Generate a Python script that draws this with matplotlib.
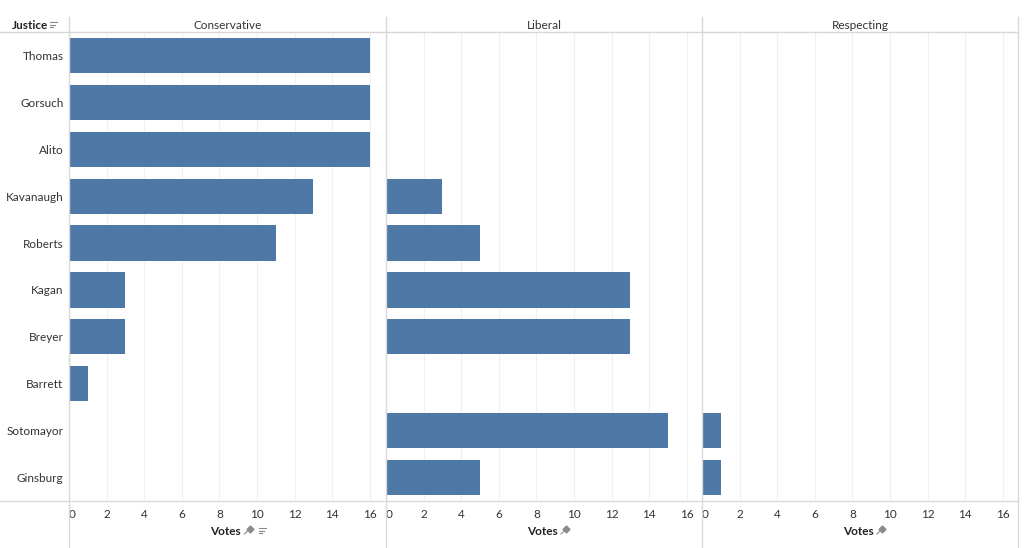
import matplotlib.pyplot as plt
import numpy as np

justices = ["Thomas", "Gorsuch", "Alito", "Kavanaugh", "Roberts",
            "Kagan", "Breyer", "Barrett", "Sotomayor", "Ginsburg"]
panels = ["Conservative", "Liberal", "Respecting"]
conservative = [16, 16, 16, 13, 11, 3, 3, 1, 0, 0]
liberal = [0, 0, 0, 3, 5, 13, 13, 0, 15, 5]
respecting = [0, 0, 0, 0, 0, 0, 0, 0, 1, 1]
tick_vals = [0, 2, 4, 6, 8, 10, 12, 14, 16]

BAR = "#4e79a7"
LINE = "#d9d9d9"
TXT = "#333333"
ICON = "#8a8a8a"
plt.rcParams['font.family'] = ['Lato', 'DejaVu Sans']

W, H = 1024, 548
fig = plt.figure(figsize=(W / 100, H / 100), dpi=100)

def fx(px):
    return px / W

def fy(py):
    return 1 - py / H

def sort_icon(px, py):
    # three short lines, shrinking downwards
    for k, ln in enumerate([7, 5, 3]):
        yy = py - 3 + k * 2.5
        fig.add_artist(plt.Line2D([fx(px), fx(px + ln)], [fy(yy), fy(yy)],
                                  color=ICON, lw=0.8))

def pin_icon(px, py):
    fig.add_artist(plt.Line2D([fx(px - 3), fx(px + 1)], [fy(py + 3), fy(py - 1)],
                              color=ICON, lw=0.8))
    fig.add_artist(plt.Line2D([fx(px + 2)], [fy(py - 2)], marker="D",
                              markersize=3.5, color=ICON, lw=0))

left_edges = [69, 386, 702]
right_edge = 1018
top, bottom = 32, 501
y = np.arange(len(justices))

for i, (name, vals) in enumerate(zip(panels, [conservative, liberal, respecting])):
    x0 = left_edges[i]
    x1 = left_edges[i + 1] if i < 2 else right_edge
    ax = fig.add_axes([fx(x0), fy(bottom), fx(x1 - x0), fy(top) - fy(bottom)])
    ax.barh(y, vals, height=0.75, color=BAR, zorder=2)
    ax.set_ylim(len(justices) - 0.5, -0.5)
    ax.set_xlim(0, (x1 - x0) / 18.8)
    for t in tick_vals:
        ax.axvline(t, color="#f0f0f0", lw=0.8, zorder=1)
    ax.set_xticks(tick_vals)
    ax.set_xticklabels([str(t) for t in tick_vals], fontsize=8.5, color=TXT)
    ax.get_xticklabels()[0].set_ha("left")
    ax.tick_params(axis="x", length=0, pad=5.5)
    ax.set_yticks([])
    for s in ax.spines.values():
        s.set_visible(False)
    if i == 0:
        ax.set_yticks(y)
        ax.set_yticklabels(justices, fontsize=8.5, color=TXT)
        ax.tick_params(axis="y", length=0, pad=4)
    cx = (x0 + x1) / 2
    fig.text(fx(cx), fy(25.5), name, ha="center", va="center",
             fontsize=8.5, color=TXT)
    fig.text(fx(cx - 2), fy(531.5), "Votes", ha="center", va="center",
             fontsize=8.5, color="#222222", fontweight="bold")
    pin_icon(cx + 20, 531)
    if i == 0:
        sort_icon(cx + 31, 531)

fig.text(fx(12), fy(25.5), "Justice", ha="left", va="center", fontsize=8.5,
         color="#222222", fontweight="bold")
sort_icon(50, 25)

# frame lines
fig.add_artist(plt.Line2D([0, fx(right_edge)], [fy(top), fy(top)], color=LINE, lw=1))
fig.add_artist(plt.Line2D([0, fx(right_edge)], [fy(bottom), fy(bottom)], color=LINE, lw=1))
for xv in left_edges + [right_edge]:
    fig.add_artist(plt.Line2D([fx(xv), fx(xv)], [fy(17), fy(548)], color=LINE, lw=1))

fig.savefig("out.png", dpi=100, facecolor="white")
